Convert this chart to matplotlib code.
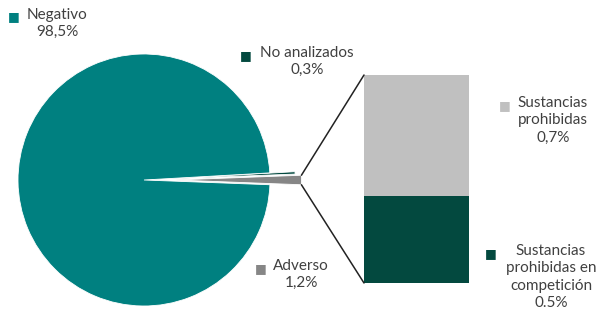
import matplotlib.pyplot as plt
from matplotlib.patches import ConnectionPatch
import numpy as np

plt.rcParams['font.family'] = ['Lato', 'DejaVu Sans']

# pie data (order: Adverso first so it sits at 0 degrees)
pie_labels = ['Adverso', 'No analizados', 'Negativo']
pie_values = [1.2, 0.3, 98.5]
pie_text = ['1,2%', '0,3%', '98,5%']
pie_colors = ['#868686', '#03493f', '#008080']

# breakdown of Adverso
bar_labels = ['Sustancias prohibidas en competición', 'Sustancias prohibidas']
bar_values = [0.5, 0.7]
bar_text = ['0.5%', '0,7%']
bar_colors = ['#03493f', '#c0c0c0']

W, H = 599, 309
fig = plt.figure(figsize=(W / 100, H / 100), dpi=100)

# pie axes: centre (144, 129) px from bottom-left, radius 126 px
R = 126
cx, cy = 144, 129
x0, x1, y0, y1 = -1.2, 1.4, -1.1, 1.1
ax = fig.add_axes([(cx + x0 * R) / W, (cy + y0 * R) / H,
                   (x1 - x0) * R / W, (y1 - y0) * R / H])
start = -pie_values[0] / 100 * 360 / 2
wedges, _ = ax.pie(pie_values, colors=pie_colors, startangle=start,
                   explode=[0.25, 0.2, 0], radius=1, counterclock=True,
                   wedgeprops=dict(linewidth=0.6, edgecolor='white'))
ax.set_xlim(x0, x1)
ax.set_ylim(y0, y1)
ax.axis('off')

# stacked bar axes
bax = fig.add_axes([364 / W, (H - 283) / H, 105 / W, 208 / H])
bottom = 0
for v, c in zip(bar_values, bar_colors):
    bax.bar(0, v, bottom=bottom, color=c, width=1)
    bottom += v
bax.set_xlim(-0.5, 0.5)
bax.set_ylim(0, sum(bar_values))
bax.axis('off')

# connection lines from exploded wedge to the bar
w = wedges[0]
th1, th2 = np.deg2rad(w.theta1), np.deg2rad(w.theta2)
ccx, ccy = w.center
r = w.r
top_pt = (ccx + r * np.cos(th2), ccy + r * np.sin(th2))
bot_pt = (ccx + r * np.cos(th1), ccy + r * np.sin(th1))
for pt, yb in [(top_pt, sum(bar_values)), (bot_pt, 0)]:
    con = ConnectionPatch(xyA=(-0.5, yb), coordsA=bax.transData,
                          xyB=pt, coordsB=ax.transData,
                          color='#222222', linewidth=1.1)
    fig.add_artist(con)

# labels
txt_color = '#404040'
fs = 11


def label(sq_x, sq_y, tx, ty, text, color):
    fig.text(sq_x / W, 1 - sq_y / H, '■', color=color, fontsize=9,
             ha='center', va='center', family='DejaVu Sans')
    fig.text(tx / W, 1 - ty / H, text, color=txt_color, fontsize=fs,
             ha='center', va='top', multialignment='center', linespacing=1.3)


label(14, 17, 57, 8, pie_labels[2] + '\n' + pie_text[2], pie_colors[2])
label(246, 56, 307, 46, pie_labels[1] + '\n' + pie_text[1], pie_colors[1])
label(261, 269, 301, 259, pie_labels[0] + '\n' + pie_text[0], pie_colors[0])
label(505, 106, 553, 96, 'Sustancias\nprohibidas\n' + bar_text[1], bar_colors[1])
label(491, 254, 551, 244, 'Sustancias\nprohibidas en\ncompetición\n' + bar_text[0],
      bar_colors[0])

fig.savefig('out.png', dpi=100)
